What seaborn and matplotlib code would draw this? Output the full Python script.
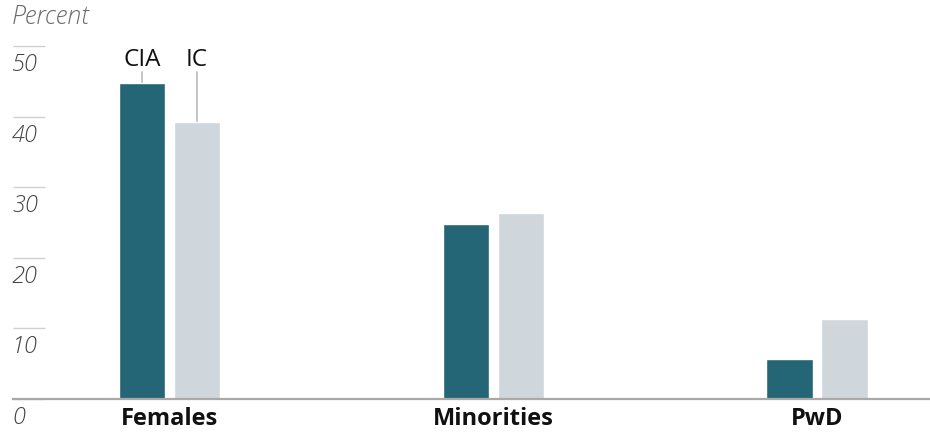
import matplotlib
matplotlib.use("Agg")
import matplotlib.pyplot as plt
import matplotlib.transforms as mtransforms
import seaborn as sns
import pandas as pd

categories = ["Females", "Minorities", "PwD"]
series_names = ["CIA", "IC"]
cia_values = [44.8, 24.8, 5.6]
ic_values = [39.3, 26.3, 11.3]
y_ticks = [0, 10, 20, 30, 40, 50]
y_tick_labels = ["0", "10", "20", "30", "40", "50"]
y_label = "Percent"

df = pd.DataFrame({
    "category": categories * 2,
    "series": [series_names[0]] * 3 + [series_names[1]] * 3,
    "value": cia_values + ic_values,
})

sns.set_theme(style="white")
plt.rcParams["font.family"] = ["Open Sans", "DejaVu Sans"]

TEAL = "#246675"
GRAY = "#cfd6dc"

fig = plt.figure(figsize=(9.3, 4.35), dpi=100)
ax = fig.add_axes([13 / 930, 35 / 435, 917 / 930, 353 / 435])

sns.barplot(data=df, x="category", y="value", hue="series", order=categories,
            hue_order=series_names, palette=[TEAL, GRAY], width=0.34, gap=0.16,
            saturation=1, legend=False, ax=ax, errorbar=None)

ax.set_xlim(-0.483, 2.349)
ax.set_ylim(0, 50)
ax.set_xlabel("")
ax.set_ylabel("")

for s in ["top", "right", "left"]:
    ax.spines[s].set_visible(False)
ax.spines["bottom"].set_color("#a9a9a9")
ax.spines["bottom"].set_linewidth(1.6)

ax.set_yticks(y_ticks)
ax.tick_params(axis="y", left=True, direction="in", length=23, width=1,
               color="#d0d0d0", labelleft=False)
ax.tick_params(axis="x", bottom=False, length=0, pad=5)
for lab in ax.get_xticklabels():
    lab.set_fontweight("bold")
    lab.set_fontsize(17)
    lab.set_color("#111111")

offset = mtransforms.ScaledTranslation(-1 / 100, -6 / 100, fig.dpi_scale_trans)
for t, txt in zip(y_ticks, y_tick_labels):
    ax.text(0.0, t, txt, transform=ax.get_yaxis_transform() + offset,
            ha="left", va="top", fontsize=17, fontstyle="italic",
            color="#444444", fontweight="light")

fig.text(12 / 930, 1 - 18 / 435, y_label, ha="left", va="center", fontsize=18,
         fontstyle="italic", color="#6a6a6a", fontweight="light")

# series labels with leader lines on first group
patches = ax.patches
cia_bar = patches[0]
ic_bar = patches[3]
for bar, name, val in [(cia_bar, series_names[0], cia_values[0]),
                       (ic_bar, series_names[1], ic_values[0])]:
    xc = bar.get_x() + bar.get_width() / 2
    ax.plot([xc, xc], [val, 46.3], color="#bbbbbb", lw=1.2, zorder=0)
    ax.text(xc, 46.5, name, ha="center", va="bottom", fontsize=17.5,
            color="#111111")

fig.savefig("out.png", dpi=100)
